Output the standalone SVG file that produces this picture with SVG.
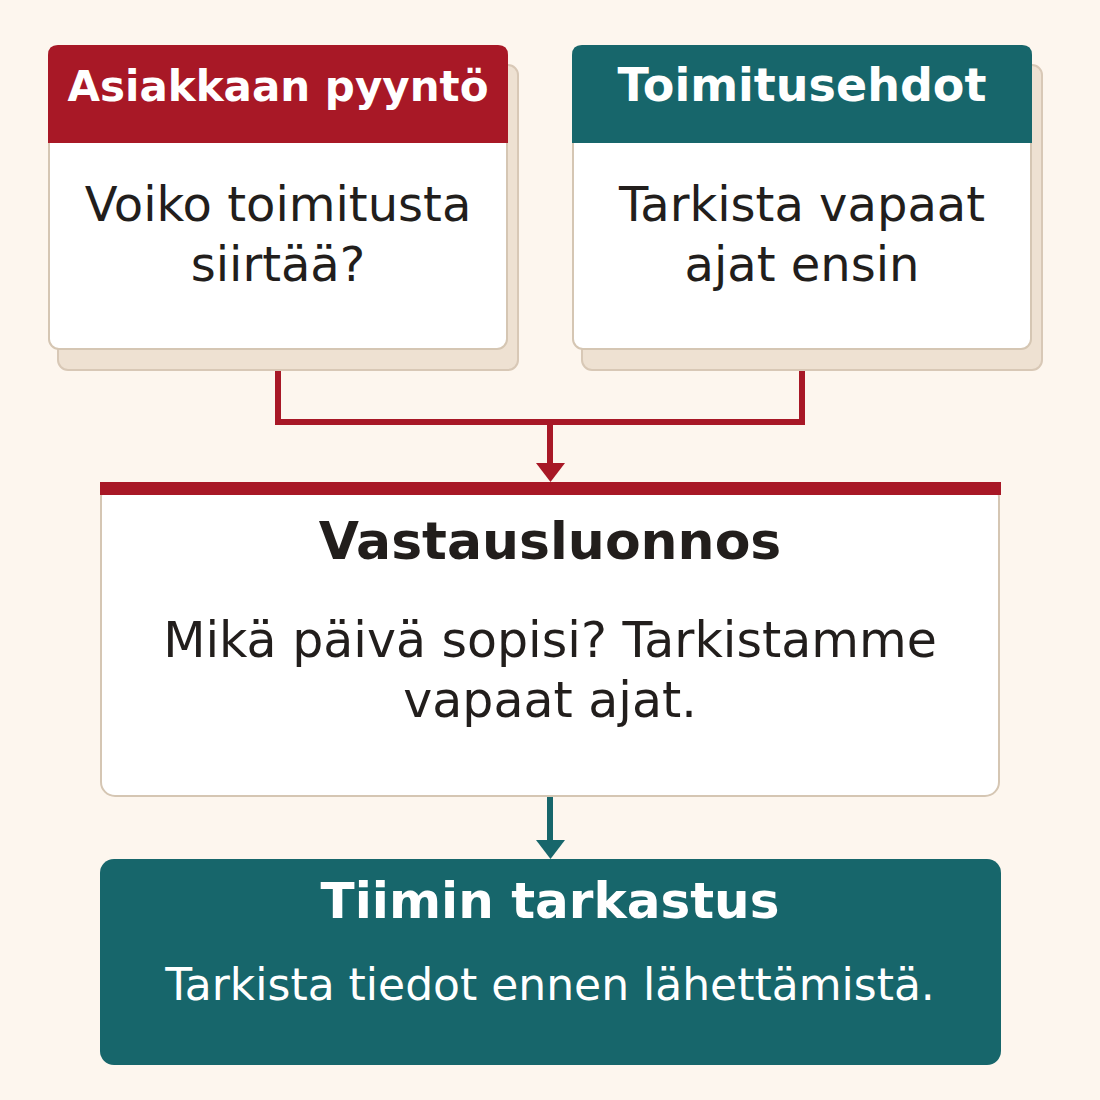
<svg xmlns="http://www.w3.org/2000/svg" width="1100" height="1100" viewBox="0 0 1100 1100">
<defs>
<style>
.bg{fill:#FDF6EE}
.shadow{fill:#EEE1D2;stroke:#D8C8B6;stroke-width:2}
.card{fill:#FFFFFF;stroke:#D5C6B3;stroke-width:2}
.red{fill:#A81826}
.teal{fill:#17666B}
.ttl{font-family:"DejaVu Sans",sans-serif;font-weight:bold;text-anchor:middle}
.body{font-family:"DejaVu Sans",sans-serif;text-anchor:middle;fill:#221E1C}
.wire{fill:none;stroke-width:6}
</style>
</defs>
<rect class="bg" x="0" y="0" width="1100" height="1100"/>

<g id="connectors">
<path class="wire" stroke="#A81826" d="M278 370 V422 H802 V370 M550 422 V465"/>
<polygon class="red" points="536,463 565,463 550.5,482"/>
<path class="wire" stroke="#17666B" d="M550 797 V842"/>
<polygon class="teal" points="536,840 565,840 550.5,859"/>
</g>

<g id="node-asiakkaan-pyynto">
<rect class="shadow" x="58" y="65" width="460" height="305" rx="10"/>
<rect class="card" x="49" y="46" width="458" height="303" rx="10"/>
<path class="red" d="M48 143 V55 Q48 45 58 45 H498 Q508 45 508 55 V143 Z"/>
<text class="ttl" x="278" y="101" font-size="42" fill="#FFFFFF">Asiakkaan pyyntö</text>
<text class="body" x="278" y="221" font-size="48">Voiko toimitusta</text>
<text class="body" x="278" y="281" font-size="48">siirtää?</text>
</g>

<g id="node-toimitusehdot">
<rect class="shadow" x="582" y="65" width="460" height="305" rx="10"/>
<rect class="card" x="573" y="46" width="458" height="303" rx="10"/>
<path class="teal" d="M572 143 V55 Q572 45 582 45 H1022 Q1032 45 1032 55 V143 Z"/>
<text class="ttl" x="802" y="101" font-size="46" fill="#FFFFFF">Toimitusehdot</text>
<text class="body" x="802" y="221" font-size="48">Tarkista vapaat</text>
<text class="body" x="802" y="281" font-size="48">ajat ensin</text>
</g>

<g id="node-vastausluonnos">
<rect class="card" x="101" y="483" width="898" height="313" rx="14"/>
<rect class="red" x="100" y="482" width="901" height="13"/>
<text class="ttl" x="550" y="559" font-size="52" fill="#221E1C">Vastausluonnos</text>
<text class="body" x="550" y="657" font-size="49">Mikä päivä sopisi? Tarkistamme</text>
<text class="body" x="550" y="717" font-size="49">vapaat ajat.</text>
</g>

<g id="node-tiimin-tarkastus">
<rect class="teal" x="100" y="859" width="901" height="206" rx="14"/>
<text class="ttl" x="550" y="918" font-size="50" fill="#FFFFFF">Tiimin tarkastus</text>
<text class="body" x="550" y="1000" font-size="44" style="fill:#FFFFFF">Tarkista tiedot ennen lähettämistä.</text>
</g>
</svg>
